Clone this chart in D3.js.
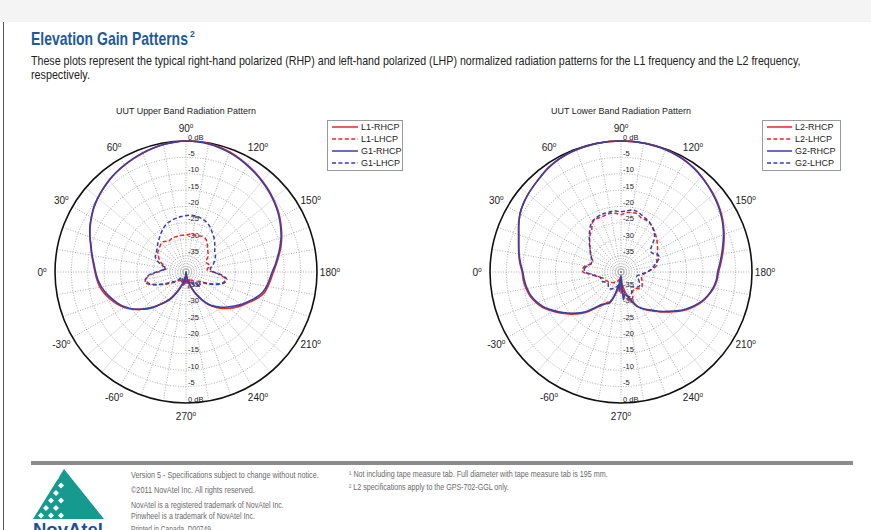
<!DOCTYPE html>
<html><head><meta charset="utf-8">
<script src="https://cdn.jsdelivr.net/npm/d3@7"></script>
<style>
html,body{margin:0;padding:0;background:#fff;overflow:hidden;}
svg{display:block;}
</style></head><body>
<svg id="page" width="871" height="530"></svg>
<script>
// Pattern angles (degrees, 0 = horizon on the left, 90 = zenith), one sample every 5 degrees
const angles = d3.range(0, 360, 5);

// Upper band (L1 / G1), normalized gain in dB
const upperL1Rhcp = [-12.2,-11.6,-10.8,-9.9,-8.8,-7.7,-6.7,-5.7,-4.9,-4.2,-3.5,-2.9,-2.4,-1.9,-1.4,-0.9,-0.5,-0.2,
  0,0,-0.2,-0.5,-1.0,-1.6,-2.3,-3.0,-3.7,-4.4,-5.2,-6.0,-6.9,-7.9,-8.9,-10.0,-11.2,-12.3,
  -13.3,-14.0,-14.6,-15.3,-16.7,-18.4,-19.9,-21.3,-22.8,-24.3,-26.0,-27.8,-30.0,-32.3,-34.6,-36.6,-38.2,-39.5,
  -39.2,-36.5,-38.5,-36.8,-35.2,-33.2,-30.8,-28.8,-26.7,-24.5,-22.3,-20.2,-18.3,-16.8,-15.5,-14.3,-13.3,-12.7];
const upperL1Lhcp = [-31.5,-33.0,-33.5,-33.0,-32.0,-31.0,-30.3,-29.5,-29.2,-28.8,-28.4,-28.6,-29.2,-29.0,-28.8,-28.8,-28.7,-28.7,
  -28.8,-28.4,-28.2,-28.5,-28.3,-28.0,-28.2,-28.8,-29.8,-30.6,-31.2,-31.8,-32.8,-33.2,-32.8,-32.6,-33.2,-33.5,
  -31.8,-29.5,-27.8,-28.0,-29.5,-31.5,-33.5,-35.0,-35.5,-34.5,-36.0,-37.0,-36.5,-37.5,-36.8,-37.5,-35.0,-36.5,
  -38.0,-36.0,-37.0,-36.5,-37.5,-37.0,-37.5,-36.8,-36.5,-36.0,-35.0,-34.0,-32.5,-31.0,-29.0,-27.8,-27.6,-29.0];
const upperG1Rhcp = [-12.4,-11.8,-10.9,-10.0,-8.8,-7.6,-6.6,-5.6,-4.8,-4.1,-3.4,-2.8,-2.3,-1.8,-1.3,-0.9,-0.5,-0.2,
  0,-0.1,-0.3,-0.7,-1.2,-1.8,-2.5,-3.2,-3.9,-4.6,-5.4,-6.2,-7.1,-8.1,-9.1,-10.3,-11.5,-12.6,
  -13.7,-14.4,-15.0,-15.8,-17.2,-18.8,-20.3,-21.9,-23.4,-24.8,-26.3,-28.0,-30.3,-32.5,-34.5,-36.3,-37.8,-39.2,
  -40.0,-39.0,-37.6,-36.3,-34.8,-32.8,-30.4,-28.6,-26.6,-24.3,-22.3,-20.3,-18.6,-17.2,-16.0,-14.8,-13.8,-13.0];
const upperG1Lhcp = [-31.0,-32.8,-34.0,-32.5,-31.0,-29.7,-29.3,-29.0,-28.5,-27.8,-27.1,-26.3,-25.4,-24.6,-24.0,-23.6,-23.3,-23.0,
  -22.8,-22.6,-22.7,-22.9,-23.3,-23.9,-24.8,-25.8,-26.6,-27.6,-28.5,-29.3,-29.6,-30.2,-30.8,-31.5,-32.3,-32.5,
  -31.5,-29.0,-27.4,-27.7,-29.0,-31.0,-33.0,-34.7,-34.5,-33.7,-35.0,-36.0,-35.0,-36.5,-36.0,-37.0,-37.0,-38.0,
  -38.0,-37.0,-36.0,-37.0,-36.5,-37.0,-38.0,-37.8,-37.5,-36.5,-35.5,-34.5,-33.0,-31.0,-28.8,-27.2,-27.5,-28.5];

// Lower band (L2 / G2), normalized gain in dB
const lowerL2Rhcp = [-9.8,-9.0,-8.3,-7.6,-6.7,-5.5,-4.4,-3.6,-3.0,-2.5,-1.9,-1.3,-0.8,-0.5,-0.3,-0.2,-0.1,0,
  0,0,0,-0.1,-0.2,-0.4,-0.7,-1.2,-1.8,-2.5,-3.1,-3.8,-4.6,-5.5,-6.5,-7.5,-8.5,-9.4,
  -10.2,-10.6,-11.3,-12.4,-13.6,-15.2,-17.0,-19.0,-21.0,-22.8,-24.5,-25.8,-27.0,-28.6,-30.8,-32.6,-34.5,-36.0,
  -33.5,-38.5,-35.0,-32.5,-30.4,-29.6,-28.2,-26.6,-24.2,-22.0,-20.0,-18.0,-16.0,-14.0,-12.5,-11.3,-10.6,-10.1];
const lowerL2Lhcp = [-28.4,-28.3,-29.0,-30.5,-30.8,-30.2,-29.3,-28.5,-27.6,-26.5,-25.3,-24.4,-22.6,-22.1,-22.2,-22.0,-21.8,-22.0,
  -22.5,-21.8,-21.6,-21.5,-22.3,-22.4,-22.6,-23.3,-24.0,-24.8,-25.6,-26.4,-27.1,-27.8,-28.3,-28.7,-29.0,-30.5,
  -32.0,-33.0,-33.2,-33.5,-33.2,-33.0,-32.5,-32.2,-32.3,-32.8,-33.4,-33.3,-33.0,-31.5,-30.8,-31.3,-32.0,-34.0,
  -37.0,-36.5,-37.0,-37.5,-37.0,-36.8,-36.5,-36.0,-35.8,-35.5,-35.2,-35.0,-34.8,-34.5,-34.3,-33.5,-32.5,-31.5];
const lowerG2Rhcp = [-10.0,-9.2,-8.4,-7.7,-6.8,-5.6,-4.4,-3.6,-3.0,-2.5,-1.9,-1.2,-0.7,-0.4,-0.3,-0.2,-0.1,0,
  0,0,-0.1,-0.2,-0.3,-0.5,-0.8,-1.3,-1.9,-2.6,-3.3,-4.0,-4.8,-5.7,-6.7,-7.8,-8.8,-9.7,
  -10.5,-10.8,-11.5,-12.5,-13.8,-15.5,-17.3,-19.3,-21.3,-23.0,-24.7,-26.0,-27.2,-28.4,-30.5,-32.2,-33.0,-31.5,
  -39.0,-34.0,-36.0,-33.0,-30.0,-29.3,-28.6,-27.0,-24.6,-22.4,-20.4,-18.4,-16.4,-14.3,-12.8,-11.6,-10.9,-10.4];
const lowerG2Lhcp = [-29.0,-28.8,-29.5,-30.5,-30.5,-30.0,-29.5,-28.5,-27.5,-26.3,-25.0,-23.5,-22.3,-21.8,-21.5,-21.4,-21.3,-21.3,
  -21.6,-21.3,-20.8,-20.9,-21.5,-22.0,-22.5,-23.3,-24.2,-25.6,-27.8,-29.0,-28.7,-27.5,-27.6,-28.8,-29.8,-30.8,
  -32.0,-33.5,-34.5,-35.0,-34.5,-34.0,-33.5,-33.0,-33.0,-33.5,-34.0,-34.5,-33.5,-32.5,-32.0,-32.5,-33.5,-35.0,
  -37.5,-37.0,-36.0,-35.5,-35.0,-34.5,-34.0,-33.8,-34.0,-34.5,-34.8,-34.5,-34.0,-33.5,-33.5,-33.5,-32.5,-31.0];

// Axis ticks
const dbTicks = [0, -5, -10, -15, -20, -25, -30, -35];
const angleTicks = [0, 30, 60, 90, 120, 150, 180, 210, 240, 270, 300, 330];

const RED = "#e6262c", BLUE = "#3640a6";
const svg = d3.select("#page");
const narrow = "'Liberation Sans Narrow','Arial Narrow','Liberation Sans',Arial,sans-serif";
const plain = "'Liberation Sans',Arial,Helvetica,sans-serif";

// squeeze a text horizontally so that it spans the given width, starting at x
function fitText(sel, x, width) {
  const w = sel.node().getComputedTextLength();
  sel.attr("x", 0).attr("transform", `translate(${x},0) scale(${width / w},1)`);
  return sel;
}

// page frame
svg.append("rect").attr("width", 871).attr("height", 530).attr("fill", "#fff");
svg.append("rect").attr("width", 871).attr("height", 22).attr("fill", "#f4f4f4");
svg.append("line").attr("x1", 3.5).attr("x2", 3.5).attr("y1", 22).attr("y2", 530)
  .attr("stroke", "#555").attr("stroke-width", 1);

// heading and intro
fitText(svg.append("text").attr("y", 45)
  .attr("font-family", narrow).attr("font-weight", "bold").attr("font-size", 18).attr("fill", "#1d5b9b")
  .text("Elevation Gain Patterns"), 31, 157);
svg.append("text").attr("x", 190).attr("y", 37)
  .attr("font-family", narrow).attr("font-weight", "bold").attr("font-size", 8.5).attr("fill", "#1d5b9b").text("2");

fitText(svg.append("text").attr("y", 65).attr("font-family", narrow).attr("font-size", 12).attr("fill", "#222")
  .text("These plots represent the typical right-hand polarized (RHP) and left-hand polarized (LHP) normalized radiation patterns for the L1 frequency and the L2 frequency,"), 31, 770);
fitText(svg.append("text").attr("y", 79).attr("font-family", narrow).attr("font-size", 12).attr("fill", "#222")
  .text("respectively."), 31, 59);

function drawPanel(cx, cy, title, series, legendBox) {
  const R = 131;
  const rad = d => d * Math.PI / 180;
  const r = d3.scaleLinear().domain([-40, 0]).range([0, R]).clamp(true);
  const g = svg.append("g").attr("transform", `translate(${cx},${cy})`);

  fitText(svg.append("text").attr("y", cy - 158)
    .attr("font-family", plain).attr("font-size", 9.5).attr("fill", "#222").text(title), cx - 70, 140);

  // dotted grid: rings every 5 dB, spokes every 10 degrees
  g.selectAll("circle.ring").data(dbTicks.slice(1)).join("circle").attr("class", "ring")
    .attr("r", d => r(d)).attr("fill", "none").attr("stroke", "#8a8a8a")
    .attr("stroke-width", 0.7).attr("stroke-dasharray", "1,1.6");
  g.selectAll("line.spoke").data(d3.range(0, 360, 10)).join("line").attr("class", "spoke")
    .attr("x1", 0).attr("y1", 0)
    .attr("x2", d => -R * Math.cos(rad(d))).attr("y2", d => -R * Math.sin(rad(d)))
    .attr("stroke", "#8a8a8a").attr("stroke-width", 0.7).attr("stroke-dasharray", "1,1.6");
  g.append("circle").attr("r", R).attr("fill", "none").attr("stroke", "#111").attr("stroke-width", 1.6);

  // dB labels above and below the centre
  const lab = g.append("g").attr("font-family", plain).attr("font-size", 7.5).attr("fill", "#222");
  dbTicks.forEach(v => {
    const t = v === 0 ? "0 dB" : String(v);
    lab.append("text").attr("x", 2).attr("y", -r(v) - 1.5).text(t);
    lab.append("text").attr("x", 2).attr("y", r(v) - 1.5).text(t);
  });

  // angle labels
  const al = g.append("g").attr("font-family", plain).attr("font-size", 10).attr("fill", "#222");
  angleTicks.forEach(a => {
    const t = al.append("text").attr("x", -144 * Math.cos(rad(a))).attr("y", -144 * Math.sin(rad(a)) + 4)
      .attr("text-anchor", "middle");
    t.append("tspan").text(a > 270 ? a - 360 : a);
    t.append("tspan").text("o").attr("font-size", 6.5).attr("dy", -4);
  });

  // radiation pattern traces
  const line = d3.lineRadial()
    .angle(d => rad(d.a - 90))
    .radius(d => r(d.v))
    .curve(d3.curveCatmullRomClosed.alpha(0.5));
  series.forEach(s => {
    g.append("path").datum(angles.map((a, i) => ({ a, v: s.values[i] })))
      .attr("d", line).attr("fill", "none").attr("stroke", s.color)
      .attr("stroke-width", s.dash ? 1.5 : 1.6)
      .attr("stroke-dasharray", s.dash ? "4,2.4" : null)
      .attr("stroke-linejoin", "round");
  });

  // legend
  const lg = svg.append("g").attr("transform", `translate(${legendBox.x},${legendBox.y})`);
  lg.append("rect").attr("x", 0.5).attr("y", 0.5).attr("width", legendBox.w).attr("height", 50)
    .attr("fill", "#fff").attr("stroke", "#9a9a9a").attr("stroke-width", 1);
  series.forEach((s, i) => {
    const y = 7 + i * 12;
    lg.append("line").attr("x1", 5).attr("x2", legendBox.lineEnd).attr("y1", y).attr("y2", y)
      .attr("stroke", s.color).attr("stroke-width", 1.5).attr("stroke-dasharray", s.dash ? "4,2.4" : null);
    lg.append("text").attr("x", legendBox.lineEnd + 3).attr("y", y + 3.3)
      .attr("font-family", plain).attr("font-size", 9).attr("fill", "#222").text(s.name);
  });
}

drawPanel(186, 272, "UUT Upper Band Radiation Pattern", [
  { name: "L1-RHCP", values: upperL1Rhcp, color: RED, dash: false },
  { name: "L1-LHCP", values: upperL1Lhcp, color: RED, dash: true },
  { name: "G1-RHCP", values: upperG1Rhcp, color: BLUE, dash: false },
  { name: "G1-LHCP", values: upperG1Lhcp, color: BLUE, dash: true }
], { x: 327, y: 120, w: 75, lineEnd: 31 });

drawPanel(621, 272, "UUT Lower Band Radiation Pattern", [
  { name: "L2-RHCP", values: lowerL2Rhcp, color: RED, dash: false },
  { name: "L2-LHCP", values: lowerL2Lhcp, color: RED, dash: true },
  { name: "G2-RHCP", values: lowerG2Rhcp, color: BLUE, dash: false },
  { name: "G2-LHCP", values: lowerG2Lhcp, color: BLUE, dash: true }
], { x: 762, y: 120, w: 78, lineEnd: 30 });

// footer rule
svg.append("rect").attr("x", 31).attr("y", 461).attr("width", 822).attr("height", 4).attr("fill", "#8c8c8c");

// pinwheel logo: teal triangle with its left flank broken into diamonds
const logo = svg.append("g");
logo.append("path").attr("d", "M64,469 L104,519 L33,519 Z").attr("fill", "#16998f");
for (let row = 0; row < 6; row++) {
  for (let col = 0; col <= row; col++) {
    const x = 60 - row * 5 + col * 10 - 4;
    const y = 478 + row * 7.5;
    if (x < 62) {
      logo.append("path").attr("d", `M${x},${y - 3} L${x + 3},${y} L${x},${y + 3} L${x - 3},${y} Z`).attr("fill", "#fff");
    }
  }
}
fitText(svg.append("text").attr("y", 536).attr("font-family", plain).attr("font-weight", "bold")
  .attr("font-size", 19).attr("fill", "#1f4f9c").text("NovAtel"), 33, 70);

// footer notes
const notes = [
  ["Version 5 - Specifications subject to change without notice.", 131, 478, 188],
  ["©2011 NovAtel Inc. All rights reserved.", 131, 493, 124],
  ["NovAtel is a registered trademark of NovAtel Inc.", 131, 508, 153],
  ["Pinwheel is a trademark of NovAtel Inc.", 131, 519, 124],
  ["Printed in Canada. D00749", 131, 532, 80],
  ["¹ Not including tape measure tab. Full diameter with tape measure tab is 195 mm.", 349, 477, 259],
  ["² L2 specifications apply to the GPS-702-GGL only.", 349, 490, 160]
];
notes.forEach(([t, x, y, w]) => {
  fitText(svg.append("text").attr("y", y).attr("font-family", narrow).attr("font-size", 8.5)
    .attr("fill", "#6a6a6a").text(t), x, w);
});
</script>
</body></html>
